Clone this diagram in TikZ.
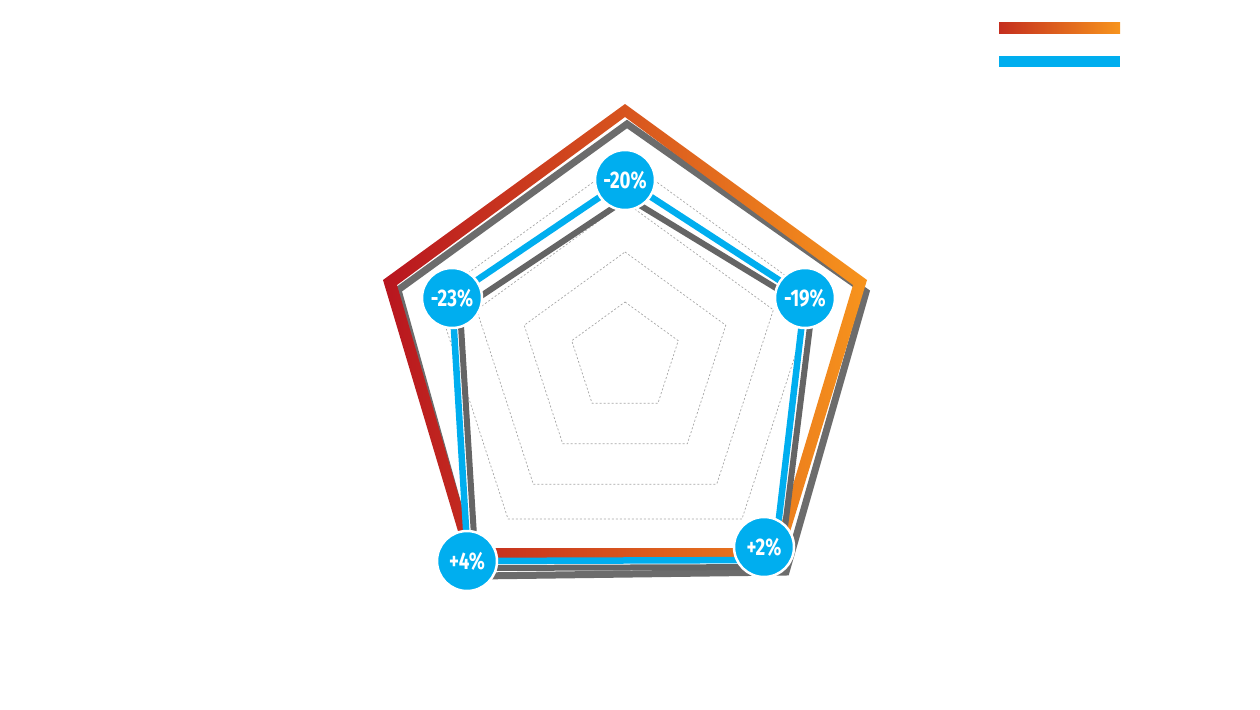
\documentclass[tikz,border=0pt]{standalone}
\usepackage{fontspec}
\setsansfont{Fira Sans}
\usetikzlibrary{calc}
\definecolor{cblue}{HTML}{00AEEF}
\definecolor{cred}{HTML}{B8151F}
\definecolor{corange}{HTML}{F7941D}
\definecolor{cshadow}{HTML}{4A4A4A}
\tikzset{
  val/.style={circle,fill=cblue,draw=white,line width=2.5pt,minimum size=60pt,inner sep=0pt,
    text=white,font=\sffamily\bfseries\fontsize{24}{24}\selectfont},
  grid/.style={draw=gray!70,dashed,line width=0.7pt,dash pattern=on 2pt off 2pt}
}
\newcommand{\cond}[1]{\scalebox{0.78}[1]{#1}}
\begin{document}
\begin{tikzpicture}[x=1pt,y=-1pt]
\useasboundingbox (0,0) rectangle (1260,709);
% dashed grid
\foreach \r in {56,106,156,199}{
  \draw[grid] ($(625,358)+(90:-\r)$) -- ($(625,358)+(162:-\r)$) -- ($(625,358)+(234:-\r)$)
    -- ($(625,358)+(306:-\r)$) -- ($(625,358)+(18:-\r)$) -- cycle;
}
% outer shadow
\draw[cshadow!90,line width=7pt,line join=miter,opacity=0.9]
  (627,124) -- (866,292) -- (786,572) -- (478,576) -- (398,290) -- cycle;
% outer gradient outline
\shade[left color=cred,right color=corange,even odd rule]
  (625,104) -- (867,280) -- (782,558) -- (466,558) -- (383,280) -- cycle
  (625,117) -- (853,285) -- (774,548) -- (474,548) -- (397,285) -- cycle;
% blue shadow
\draw[cshadow!85,line width=6pt,line join=miter]
  (628,198) -- (812,310) -- (780,567) -- (476,568) -- (460,310) -- cycle;
% blue
\draw[cblue,line width=6.5pt,line join=miter]
  (625,180) -- (805,297) -- (774,560) -- (468,561) -- (452,297) -- cycle;
% nodes
\node[val] (n1) at (625,180) {\cond{-20\%}};
\node[val] (n2) at (805,298) {\cond{-19\%}};
\node[val] (n3) at (764,547) {\cond{+2\%}};
\node[val] (n4) at (467,561) {\cond{+4\%}};
\node[val] (n5) at (452,298) {\cond{-23\%}};
% legend
\shade[left color=cred!80!corange,right color=corange] (999,23) rectangle (1120,34);
\fill[cblue] (999,56) rectangle (1120,67);
\end{tikzpicture}
\end{document}
